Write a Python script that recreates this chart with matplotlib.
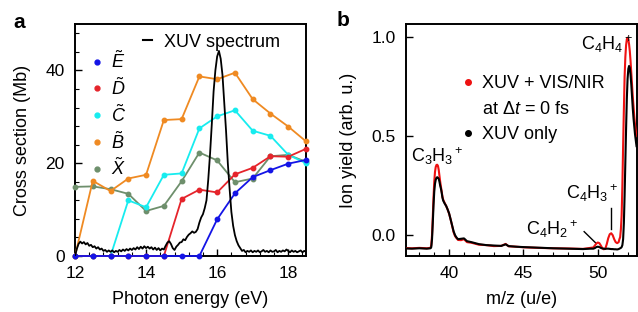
import matplotlib
matplotlib.use('Agg')
import matplotlib.pyplot as plt
from matplotlib.ticker import AutoMinorLocator
from matplotlib.lines import Line2D
import numpy as np

plt.rcParams['font.family'] = ['Liberation Sans', 'DejaVu Sans']
plt.rcParams['mathtext.fontset'] = 'custom'
plt.rcParams['mathtext.rm'] = 'Liberation Sans'
plt.rcParams['mathtext.it'] = 'Liberation Sans:italic'
plt.rcParams['mathtext.bf'] = 'Liberation Sans:bold'

# panel a: partial cross sections (Mb) vs photon energy
energy = [12.0, 12.5, 13.0, 13.5, 14.0, 14.5, 15.0, 15.5, 16.0, 16.5, 17.0, 17.5, 18.0, 18.5]
sig_E = [0, 0, 0, 0, 0, 0, 0, 0, 7.9, 13.5, 17.0, 18.5, 19.9, 20.7]
sig_D = [0, 0, 0, 0, 0, 0, 12.3, 14.3, 13.7, 17.6, 19.0, 21.5, 21.4, 23.1]
sig_C = [0, 0, 0, 12.0, 10.5, 17.5, 17.8, 27.5, 30.1, 31.4, 27.0, 25.9, 21.8, 20.0]
sig_B = [0, 16.2, 14.0, 16.7, 17.5, 29.3, 29.5, 38.7, 38.1, 39.5, 33.8, 30.7, 27.9, 24.7]
sig_X = [14.9, 15.0, 14.4, 13.4, 9.7, 10.8, 16.1, 22.3, 20.6, 15.9, 16.7, 21.5, 21.8, 20.3]

# XUV spectrum, sampled every 0.05 eV from 12.0 to 18.5 (scaled to Mb axis)
xuv = [0.0, 1.5, 2.6, 3.1, 2.7, 3.0, 2.5, 2.8, 2.2, 2.4,
       1.9, 2.1, 1.6, 1.9, 1.4, 1.6, 1.1, 1.3, 0.9, 1.2,
       0.9, 1.2, 0.8, 1.1, 0.9, 1.3, 1.0, 1.4, 1.1, 1.5,
       1.2, 1.6, 1.3, 1.7, 1.4, 1.9, 1.5, 2.0, 1.6, 2.1,
       1.7, 2.0, 1.6, 1.9, 1.4, 1.8, 1.3, 1.7, 1.2, 1.6,
       1.4, 2.2, 2.9, 3.2, 2.6, 1.7, 1.3, 2.0, 2.4, 2.9,
       3.0, 3.6, 3.4, 4.1, 4.6, 4.9, 5.3, 5.0, 5.2, 5.8,
       7.2, 8.3, 9.0, 10.3, 12.0, 16.5, 22.0, 28.5, 35.5, 40.0,
       43.0, 44.2, 42.5, 39.0, 33.0, 27.0, 20.0, 14.5, 9.5, 6.5,
       4.5, 3.2, 2.3, 1.7, 1.1, 1.3, 0.8, 1.1, 0.9, 1.2,
       0.8, 1.1, 0.9, 1.2, 0.8, 1.0, 1.3, 0.9, 1.1, 0.8,
       1.2, 0.9, 1.0, 1.3, 0.8, 1.1, 0.9, 1.2, 1.0, 1.4,
       1.1, 0.8, 1.2, 0.9, 1.1, 0.8, 1.0, 1.2, 0.8, 1.1, 0.9]
xuv_E = np.linspace(12.0, 18.5, len(xuv))

# panel b: ion yield vs m/z
mz = [37.1, 37.5, 38.0, 38.5,
      38.75, 38.8, 38.85, 38.9, 38.95, 39.0, 39.05, 39.1, 39.15, 39.2,
      39.25, 39.3, 39.35, 39.4, 39.45, 39.5, 39.55, 39.6,
      39.7, 39.8, 39.9, 40.0, 40.1, 40.2, 40.3, 40.4, 40.5, 40.6,
      40.8, 41.0, 41.2, 41.5, 42.0, 42.5, 43.0, 43.5, 43.8, 44.0,
      44.5, 45.0, 46.0, 47.0, 48.0, 48.5, 49.0, 49.5,
      49.7, 49.8, 49.9, 50.0, 50.1, 50.2, 50.3, 50.4, 50.5, 50.6,
      50.7, 50.8, 50.9, 51.0, 51.1, 51.2, 51.3, 51.4,
      51.45, 51.5, 51.55, 51.6, 51.65, 51.7, 51.75, 51.8, 51.85, 51.9,
      51.95, 52.0, 52.05, 52.1, 52.15, 52.2, 52.25, 52.3, 52.35, 52.4,
      52.45, 52.5, 52.55, 52.6]
yield_xuv = [-0.067, -0.068, -0.066, -0.068,
             -0.066, -0.06, -0.02, 0.06, 0.15, 0.22, 0.26, 0.28, 0.29, 0.293,
             0.29, 0.285, 0.27, 0.25, 0.235, 0.215, 0.19, 0.175,
             0.16, 0.148, 0.13, 0.11, 0.08, 0.05, 0.02, 0.0, -0.012, -0.02,
             -0.018, -0.016, -0.03, -0.035, -0.045, -0.05, -0.052, -0.054, -0.046, -0.055,
             -0.058, -0.06, -0.063, -0.066, -0.068, -0.069, -0.07, -0.068,
             -0.068, -0.065, -0.06, -0.058, -0.06, -0.064, -0.067, -0.068, -0.069, -0.068,
             -0.068, -0.069, -0.07, -0.07, -0.071, -0.071, -0.072, -0.07,
             -0.068, -0.066, -0.064, -0.06, -0.05, -0.02, 0.06, 0.20, 0.37, 0.54,
             0.69, 0.79, 0.84, 0.855, 0.845, 0.81, 0.76, 0.70, 0.64, 0.59,
             0.55, 0.51, 0.48, 0.45]
yield_pp = [-0.065, -0.066, -0.064, -0.066,
            -0.064, -0.05, 0.0, 0.09, 0.19, 0.27, 0.32, 0.345, 0.355, 0.356,
            0.35, 0.33, 0.30, 0.27, 0.245, 0.22, 0.195, 0.18,
            0.163, 0.148, 0.13, 0.108, 0.08, 0.048, 0.015, -0.005, -0.015, -0.024,
            -0.025, -0.02, -0.035, -0.038, -0.048, -0.05, -0.055, -0.054, -0.044, -0.056,
            -0.058, -0.061, -0.064, -0.066, -0.067, -0.068, -0.069, -0.064,
            -0.062, -0.052, -0.042, -0.037, -0.04, -0.052, -0.065, -0.071, -0.068, -0.045,
            -0.015, 0.005, 0.01, 0.0, -0.02, -0.035, -0.04, -0.035,
            -0.02, -0.01, 0.03, 0.10, 0.25, 0.45, 0.63, 0.80, 0.90, 0.96,
            0.99, 0.998, 0.99, 0.965, 0.93, 0.88, 0.82, 0.76, 0.70, 0.65,
            0.60, 0.56, 0.53, 0.50]

c_E = '#1414e6'
c_D = '#e5242b'
c_C = '#17ecef'
c_B = '#ef8a22'
c_X = '#6e8f6c'

fig = plt.figure(figsize=(6.38, 3.12), dpi=100)
ax1 = fig.add_axes([75/638, 56/312, 231/638, 232/312])
ax2 = fig.add_axes([406/638, 56/312, 230.5/638, 232/312])

# ---- panel a
lw = 1.3
ms = 3.2
for sig, col in [(sig_X, c_X), (sig_B, c_B), (sig_C, c_C), (sig_D, c_D), (sig_E, c_E)]:
    ax1.plot(energy, sig, '-o', color=col, lw=lw, ms=ms, clip_on=False, zorder=3)
ax1.plot(xuv_E, xuv, color='black', lw=1.3, zorder=4)

ax1.set_xlim(12, 18.5)
ax1.set_ylim(0, 50)
ax1.set_xticks([12, 14, 16, 18])
ax1.set_yticks([0, 20, 40])
ax1.xaxis.set_minor_locator(AutoMinorLocator(5))
ax1.yaxis.set_minor_locator(AutoMinorLocator(5))
ax1.set_xlabel('Photon energy (eV)', fontsize=13, labelpad=7)
ax1.set_ylabel('Cross section (Mb)', fontsize=13, labelpad=10)

h_spec = [Line2D([], [], color='black', lw=1.5)]
leg1 = ax1.legend(h_spec, ['XUV spectrum'], loc='upper left', bbox_to_anchor=(0.262, 0.99),
                  frameon=False, fontsize=13, handlelength=0.5, handletextpad=0.7,
                  borderaxespad=0)
ax1.add_artist(leg1)
h_pts = [Line2D([], [], ls='', marker='o', ms=3.5, color=c) for c in [c_E, c_D, c_C, c_B, c_X]]
labs = [r'$\tilde{E}$', r'$\tilde{D}$', r'$\tilde{C}$', r'$\tilde{B}$', r'$\tilde{X}$']
ax1.legend(h_pts, labs, loc='upper left', bbox_to_anchor=(0.045, 0.917), frameon=False,
           fontsize=13, handlelength=0.5, handletextpad=0.5, labelspacing=0.3,
           borderaxespad=0)

# ---- panel b
ax2.plot(mz, yield_pp, color='#ee1111', lw=1.5, zorder=3)
ax2.plot(mz, yield_xuv, color='black', lw=1.5, zorder=4)
ax2.set_xlim(37.1, 52.6)
ax2.set_ylim(-0.105, 1.067)
ax2.set_xticks([40, 45, 50])
ax2.xaxis.set_minor_locator(AutoMinorLocator(5))
ax2.set_yticks([0.0, 0.5, 1.0])
ax2.set_yticklabels(['0.0', '0.5', '1.0'])
ax2.set_xlabel('m/z (u/e)', fontsize=13, labelpad=7)
ax2.set_ylabel('Ion yield (arb. u.)', fontsize=13, labelpad=10)

h_b = [Line2D([], [], ls='', marker='o', ms=4, color='#ee1111'),
       Line2D([], [], ls='', marker=''),
       Line2D([], [], ls='', marker='o', ms=4, color='black')]
ax2.legend(h_b, ['XUV + VIS/NIR', r'at $\Delta t$ = 0 fs', 'XUV only'], loc='upper left',
           bbox_to_anchor=(0.22, 0.81), frameon=False, fontsize=13, handlelength=0.5,
           handletextpad=0.5, labelspacing=0.47, borderaxespad=0)

ax2.text(39.2, 0.40, r'C$_3$H$_3$$^+$', fontsize=13, ha='center', va='center')
ax2.text(50.6, 0.965, r'C$_4$H$_4$$^+$', fontsize=13, ha='center', va='center')
ax2.text(49.65, 0.215, r'C$_4$H$_3$$^+$', fontsize=13, ha='center', va='center')
ax2.text(46.95, 0.03, r'C$_4$H$_2$$^+$', fontsize=13, ha='center', va='center')
ax2.plot([50.9, 50.9], [0.135, 0.03], color='black', lw=1.0)
ax2.plot([49.08, 49.87], [0.018, -0.04], color='black', lw=1.0)

for ax in (ax1, ax2):
    for s in ['top', 'right', 'left', 'bottom']:
        ax.spines[s].set_linewidth(1.4)
    ax.tick_params(which='both', direction='in', top=False, right=False, labelsize=12.5, pad=7.5)
    ax.tick_params(which='major', length=5, width=1.0)
    ax.tick_params(which='minor', length=3, width=0.8)

fig.text(13/638, 1 - 22/312, 'a', fontsize=15, fontweight='bold', va='center')
fig.text(337/638, 1 - 20/312, 'b', fontsize=15, fontweight='bold', va='center')

fig.savefig('out.png', dpi=100)
